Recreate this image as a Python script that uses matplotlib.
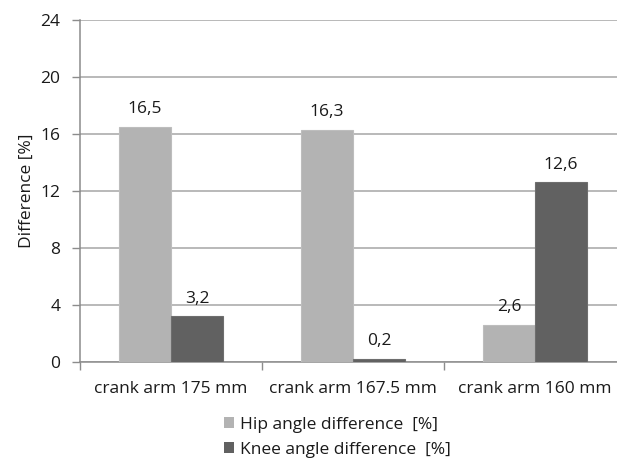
import numpy as np
import matplotlib.pyplot as plt
from matplotlib.patches import Patch

categories = ['crank arm 175 mm', 'crank arm 167.5 mm', 'crank arm 160 mm']
hip_diff = [16.5, 16.3, 2.6]
knee_diff = [3.2, 0.2, 12.6]
hip_text = ['16,5', '16,3', '2,6']
knee_text = ['3,2', '0,2', '12,6']
y_ticks = [0, 4, 8, 12, 16, 20, 24]

plt.rcParams['font.family'] = ['Open Sans', 'DejaVu Sans']

fig = plt.figure(figsize=(6.17, 4.58), dpi=100)
ax = fig.add_axes([80 / 617, 1 - 362 / 458, 546 / 617, 342 / 458])

hip_col = '#b3b3b3'
knee_col = '#616161'
txt_col = '#1a1a1a'
fs = 12.5
w = 0.286
x = np.arange(len(categories))

ax.bar(x - w / 2, hip_diff, w, color=hip_col, edgecolor='#bdbdbd', linewidth=0.8, zorder=3)
ax.bar(x + w / 2, knee_diff, w, color=knee_col, edgecolor='#6e6e6e', linewidth=0.8, zorder=3)

for xi, v, t in zip(x - w / 2, hip_diff, hip_text):
    ax.annotate(t, (xi, v), xytext=(0, 7), textcoords='offset points',
                ha='center', va='bottom', fontsize=fs, color=txt_col)
for xi, v, t in zip(x + w / 2, knee_diff, knee_text):
    ax.annotate(t, (xi, v), xytext=(0, 7), textcoords='offset points',
                ha='center', va='bottom', fontsize=fs, color=txt_col)

ax.set_xlim(-0.5, 2.5)
ax.set_ylim(0, 24)
ax.set_yticks(y_ticks)
ax.yaxis.grid(True, color='#a6a6a6', linewidth=1.1, zorder=0)
ax.set_axisbelow(True)

# category ticks sit between groups, labels at centers
ax.set_xticks([-0.5, 0.5, 1.5, 2.5])
ax.set_xticklabels([])
ax.set_xticks(x, minor=True)
ax.set_xticklabels(categories, minor=True, fontsize=fs, color=txt_col)
ax.tick_params(axis='x', which='minor', length=0, pad=14)
ax.tick_params(axis='x', which='major', length=6, color='#8c8c8c', width=1)
ax.tick_params(axis='y', length=6, color='#8c8c8c', width=1, labelsize=fs,
               labelcolor=txt_col, pad=8)

for s in ['top', 'right']:
    ax.spines[s].set_visible(False)
for s in ['left', 'bottom']:
    ax.spines[s].set_color('#8c8c8c')
    ax.spines[s].set_linewidth(1.1)

ax.set_ylabel('Difference [%]', fontsize=fs, color=txt_col, labelpad=4)

handles = [Patch(facecolor=hip_col, edgecolor='none'),
           Patch(facecolor=knee_col, edgecolor='none')]
fig.legend(handles, ['Hip angle difference  [%]', 'Knee angle difference  [%]'],
           loc='upper left', bbox_to_anchor=(224 / 617, 1 - 417 / 458),
           frameon=False, fontsize=fs, handlelength=0.6, handleheight=0.6,
           handletextpad=0.3, labelspacing=0.5, borderpad=0, borderaxespad=0,
           labelcolor=txt_col)

fig.savefig('out.png', dpi=100)
